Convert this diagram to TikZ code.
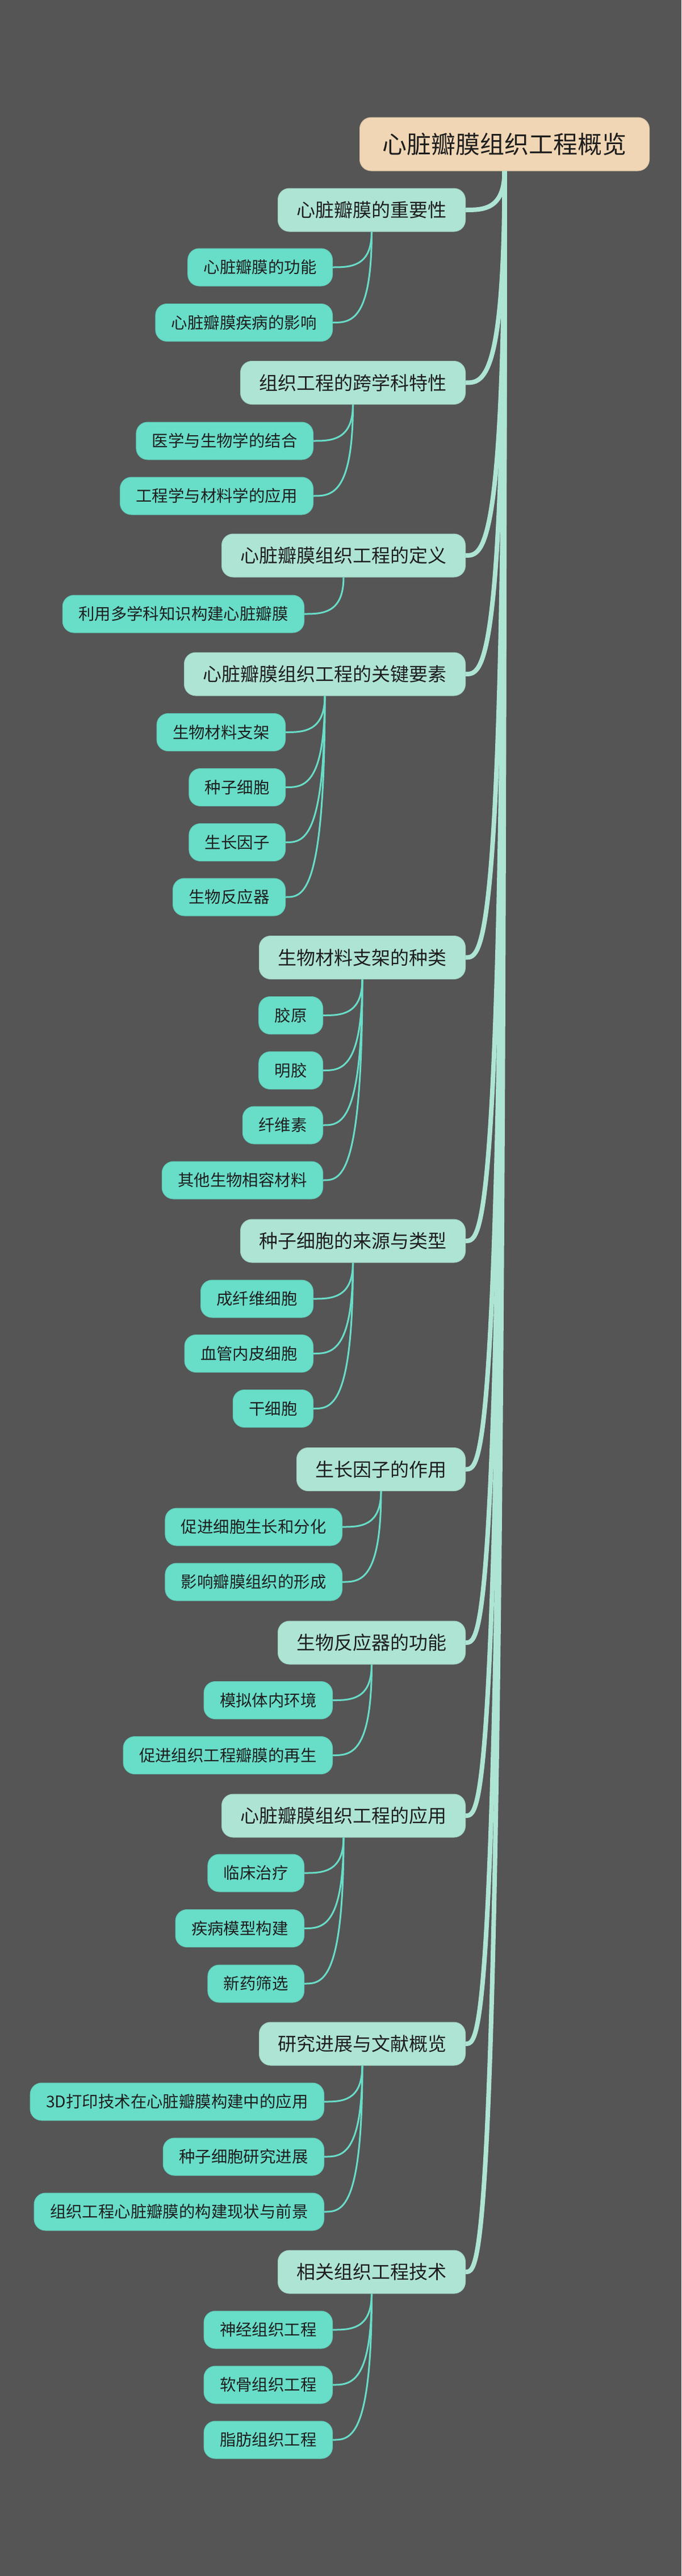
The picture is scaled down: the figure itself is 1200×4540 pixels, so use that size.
\documentclass[tikz,border=0pt]{standalone}
\usepackage{fontspec}
\setmainfont{Noto Sans CJK SC}
\definecolor{bgcol}{HTML}{555555}
\definecolor{rootfill}{HTML}{F0D6B4}
\definecolor{mainfill}{HTML}{AEE4D4}
\definecolor{subfill}{HTML}{68DDC8}
\definecolor{textcol}{HTML}{1E1E1E}
\begin{document}
\begin{tikzpicture}[x=1pt,y=-1pt,
rootnode/.style={anchor=east, fill=rootfill, draw=rootfill!90!black, line width=1pt, rounded corners=20pt, inner xsep=40pt, inner ysep=0pt, minimum height=94pt, text=textcol, font=\fontsize{43}{50}\selectfont},
mainnode/.style={anchor=east, fill=mainfill, draw=mainfill!92!black, line width=1pt, rounded corners=20pt, inner xsep=33pt, inner ysep=0pt, minimum height=76pt, text=textcol, font=\fontsize{33}{40}\selectfont},
subnode/.style={anchor=east, fill=subfill, draw=subfill!92!black, line width=1pt, rounded corners=20pt, inner xsep=28pt, inner ysep=0pt, minimum height=66pt, text=textcol, font=\fontsize{28.4}{34}\selectfont},
trunk/.style={draw=mainfill, line width=8pt},
twig/.style={draw=subfill, line width=3pt},
]
    \fill[bgcol] (0,0) rectangle (1200,4540);
    % root
    \node[rootnode](root) at (1144,254) {心脏瓣膜组织工程概览};
    % main topics
    \node[mainnode](imp) at (820,370) {心脏瓣膜的重要性};
    \node[mainnode](cross) at (820,674.5) {组织工程的跨学科特性};
    \node[mainnode](defn) at (820,979) {心脏瓣膜组织工程的定义};
    \node[mainnode](keys) at (820,1188) {心脏瓣膜组织工程的关键要素};
    \node[mainnode](scaf) at (820,1687.5) {生物材料支架的种类};
    \node[mainnode](cells) at (820,2187) {种子细胞的来源与类型};
    \node[mainnode](growth) at (820,2589.5) {生长因子的作用};
    \node[mainnode](react) at (820,2895) {生物反应器的功能};
    \node[mainnode](appl) at (820,3200) {心脏瓣膜组织工程的应用};
    \node[mainnode](prog) at (820,3602) {研究进展与文献概览};
    \node[mainnode](rel) at (820,4004) {相关组织工程技术};
    % sub topics
    \node[subnode](func) at (586,471) {心脏瓣膜的功能};
    \node[subnode](dis) at (586,568.5) {心脏瓣膜疾病的影响};
    \node[subnode](med) at (552,777) {医学与生物学的结合};
    \node[subnode](eng) at (552,874) {工程学与材料学的应用};
    \node[subnode](build) at (536,1082) {利用多学科知识构建心脏瓣膜};
    \node[subnode](kscaf) at (503,1290.5) {生物材料支架};
    \node[subnode](kcell) at (503,1387.5) {种子细胞};
    \node[subnode](kgrow) at (503,1484.5) {生长因子};
    \node[subnode](kreac) at (503,1581) {生物反应器};
    \node[subnode](collagen) at (569,1789.5) {胶原};
    \node[subnode](gelatin) at (569,1886.5) {明胶};
    \node[subnode](cellulose) at (569,1983) {纤维素};
    \node[subnode](otherbio) at (569,2080) {其他生物相容材料};
    \node[subnode](fibro) at (552,2289) {成纤维细胞};
    \node[subnode](endo) at (552,2385.5) {血管内皮细胞};
    \node[subnode](stem) at (552,2482.5) {干细胞};
    \node[subnode](promote) at (603,2691) {促进细胞生长和分化};
    \node[subnode](shape) at (603,2788) {影响瓣膜组织的形成};
    \node[subnode](mimic) at (586,2996.5) {模拟体内环境};
    \node[subnode](regen) at (586,3093.5) {促进组织工程瓣膜的再生};
    \node[subnode](clinic) at (536,3301) {临床治疗};
    \node[subnode](model) at (536,3398.5) {疾病模型构建};
    \node[subnode](drug) at (536,3496) {新药筛选};
    \node[subnode](print) at (571,3704) {3D打印技术在心脏瓣膜构建中的应用};
    \node[subnode](seedprog) at (571,3801) {种子细胞研究进展};
    \node[subnode](status) at (571,3898) {组织工程心脏瓣膜的构建现状与前景};
    \node[subnode](neural) at (586,4106) {神经组织工程};
    \node[subnode](cartilage) at (586,4203) {软骨组织工程};
    \node[subnode](adipose) at (586,4300) {脂肪组织工程};
    % trunk lines
    \draw[trunk] (root.south) .. controls (root.south |- imp.east) and +(30,0) .. (imp.east);
    \draw[trunk] (root.south) .. controls (root.south |- cross.east) and +(30,0) .. (cross.east);
    \draw[trunk] (root.south) .. controls (root.south |- defn.east) and +(30,0) .. (defn.east);
    \draw[trunk] (root.south) .. controls (root.south |- keys.east) and +(30,0) .. (keys.east);
    \draw[trunk] (root.south) .. controls (root.south |- scaf.east) and +(30,0) .. (scaf.east);
    \draw[trunk] (root.south) .. controls (root.south |- cells.east) and +(30,0) .. (cells.east);
    \draw[trunk] (root.south) .. controls (root.south |- growth.east) and +(30,0) .. (growth.east);
    \draw[trunk] (root.south) .. controls (root.south |- react.east) and +(30,0) .. (react.east);
    \draw[trunk] (root.south) .. controls (root.south |- appl.east) and +(30,0) .. (appl.east);
    \draw[trunk] (root.south) .. controls (root.south |- prog.east) and +(30,0) .. (prog.east);
    \draw[trunk] (root.south) .. controls (root.south |- rel.east) and +(30,0) .. (rel.east);
    % twigs
    \draw[twig] (imp.south) .. controls (imp.south |- func.east) and +(30,0) .. (func.east);
    \draw[twig] (imp.south) .. controls (imp.south |- dis.east) and +(30,0) .. (dis.east);
    \draw[twig] (cross.south) .. controls (cross.south |- med.east) and +(30,0) .. (med.east);
    \draw[twig] (cross.south) .. controls (cross.south |- eng.east) and +(30,0) .. (eng.east);
    \draw[twig] (defn.south) .. controls (defn.south |- build.east) and +(30,0) .. (build.east);
    \draw[twig] (keys.south) .. controls (keys.south |- kscaf.east) and +(30,0) .. (kscaf.east);
    \draw[twig] (keys.south) .. controls (keys.south |- kcell.east) and +(30,0) .. (kcell.east);
    \draw[twig] (keys.south) .. controls (keys.south |- kgrow.east) and +(30,0) .. (kgrow.east);
    \draw[twig] (keys.south) .. controls (keys.south |- kreac.east) and +(30,0) .. (kreac.east);
    \draw[twig] (scaf.south) .. controls (scaf.south |- collagen.east) and +(30,0) .. (collagen.east);
    \draw[twig] (scaf.south) .. controls (scaf.south |- gelatin.east) and +(30,0) .. (gelatin.east);
    \draw[twig] (scaf.south) .. controls (scaf.south |- cellulose.east) and +(30,0) .. (cellulose.east);
    \draw[twig] (scaf.south) .. controls (scaf.south |- otherbio.east) and +(30,0) .. (otherbio.east);
    \draw[twig] (cells.south) .. controls (cells.south |- fibro.east) and +(30,0) .. (fibro.east);
    \draw[twig] (cells.south) .. controls (cells.south |- endo.east) and +(30,0) .. (endo.east);
    \draw[twig] (cells.south) .. controls (cells.south |- stem.east) and +(30,0) .. (stem.east);
    \draw[twig] (growth.south) .. controls (growth.south |- promote.east) and +(30,0) .. (promote.east);
    \draw[twig] (growth.south) .. controls (growth.south |- shape.east) and +(30,0) .. (shape.east);
    \draw[twig] (react.south) .. controls (react.south |- mimic.east) and +(30,0) .. (mimic.east);
    \draw[twig] (react.south) .. controls (react.south |- regen.east) and +(30,0) .. (regen.east);
    \draw[twig] (appl.south) .. controls (appl.south |- clinic.east) and +(30,0) .. (clinic.east);
    \draw[twig] (appl.south) .. controls (appl.south |- model.east) and +(30,0) .. (model.east);
    \draw[twig] (appl.south) .. controls (appl.south |- drug.east) and +(30,0) .. (drug.east);
    \draw[twig] (prog.south) .. controls (prog.south |- print.east) and +(30,0) .. (print.east);
    \draw[twig] (prog.south) .. controls (prog.south |- seedprog.east) and +(30,0) .. (seedprog.east);
    \draw[twig] (prog.south) .. controls (prog.south |- status.east) and +(30,0) .. (status.east);
    \draw[twig] (rel.south) .. controls (rel.south |- neural.east) and +(30,0) .. (neural.east);
    \draw[twig] (rel.south) .. controls (rel.south |- cartilage.east) and +(30,0) .. (cartilage.east);
    \draw[twig] (rel.south) .. controls (rel.south |- adipose.east) and +(30,0) .. (adipose.east);
\end{tikzpicture}
\end{document}
